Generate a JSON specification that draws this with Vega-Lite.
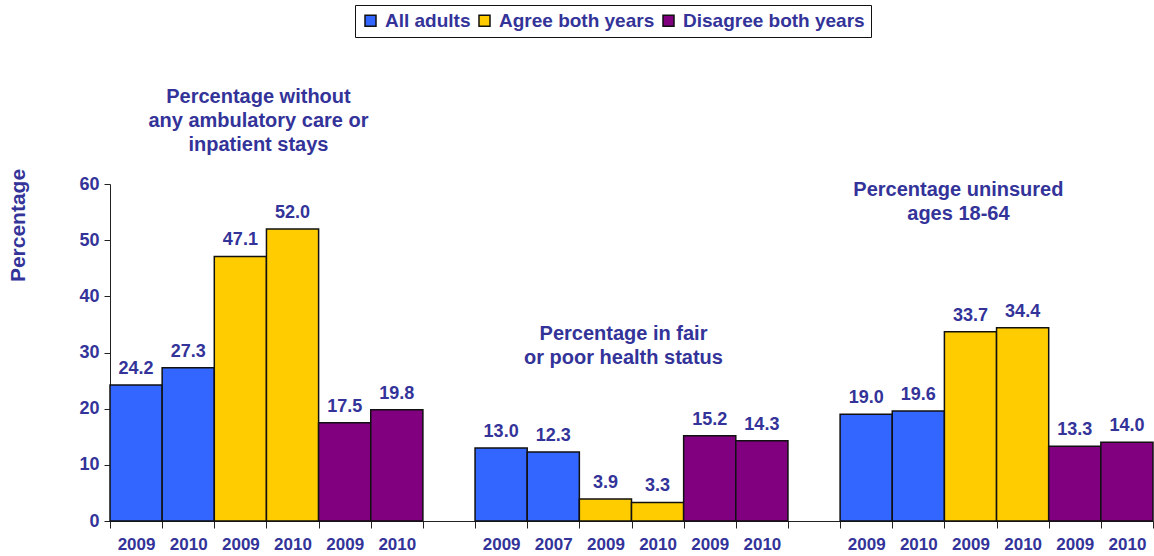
{
  "$schema": "https://vega.github.io/schema/vega-lite/v6.json",
  "width": 1043,
  "height": 337,
  "autosize": {"type": "none"},
  "padding": {"left": 110, "top": 184, "right": 1, "bottom": 35},
  "background": "white",
  "config": {
    "view": {"stroke": null},
    "font": "Liberation Sans",
    "text": {"font": "Liberation Sans", "fontWeight": "bold", "color": "#333399"}
  },
  "datasets": {
    "bars": [
      {"bar": "A all 2009", "series": "All adults", "year": "2009", "value": 24.2},
      {"bar": "A all 2010", "series": "All adults", "year": "2010", "value": 27.3},
      {"bar": "A agree 2009", "series": "Agree both years", "year": "2009", "value": 47.1},
      {"bar": "A agree 2010", "series": "Agree both years", "year": "2010", "value": 52.0},
      {"bar": "A disagree 2009", "series": "Disagree both years", "year": "2009", "value": 17.5},
      {"bar": "A disagree 2010", "series": "Disagree both years", "year": "2010", "value": 19.8},
      {"bar": "B all 2009", "series": "All adults", "year": "2009", "value": 13.0},
      {"bar": "B all 2007", "series": "All adults", "year": "2007", "value": 12.3},
      {"bar": "B agree 2009", "series": "Agree both years", "year": "2009", "value": 3.9},
      {"bar": "B agree 2010", "series": "Agree both years", "year": "2010", "value": 3.3},
      {"bar": "B disagree 2009", "series": "Disagree both years", "year": "2009", "value": 15.2},
      {"bar": "B disagree 2010", "series": "Disagree both years", "year": "2010", "value": 14.3},
      {"bar": "C all 2009", "series": "All adults", "year": "2009", "value": 19.0},
      {"bar": "C all 2010", "series": "All adults", "year": "2010", "value": 19.6},
      {"bar": "C agree 2009", "series": "Agree both years", "year": "2009", "value": 33.7},
      {"bar": "C agree 2010", "series": "Agree both years", "year": "2010", "value": 34.4},
      {"bar": "C disagree 2009", "series": "Disagree both years", "year": "2009", "value": 13.3},
      {"bar": "C disagree 2010", "series": "Disagree both years", "year": "2010", "value": 14.0}
    ],
    "titlesAB": [
      {"at": "A agree 2010", "level": 77.3, "label": "Percentage without\nany ambulatory care or\ninpatient stays"},
      {"at": "B agree 2010", "level": 35.0, "label": "Percentage in fair\nor poor health status"}
    ],
    "titlesC": [
      {"at": "C agree 2009", "level": 60.7, "label": "Percentage uninsured\nages 18-64"}
    ]
  },
  "encoding": {
    "x": {
      "field": "bar",
      "type": "nominal",
      "scale": {
        "type": "band",
        "paddingInner": 0,
        "paddingOuter": 0,
        "domain": ["A all 2009", "A all 2010", "A agree 2009", "A agree 2010", "A disagree 2009", "A disagree 2010", "gap1",
                   "B all 2009", "B all 2007", "B agree 2009", "B agree 2010", "B disagree 2009", "B disagree 2010", "gap2",
                   "C all 2009", "C all 2010", "C agree 2009", "C agree 2010", "C disagree 2009", "C disagree 2010"]
      },
      "axis": {
        "title": null,
        "labelAngle": 0,
        "labelExpr": "substring(datum.label + '', 0, 3) == 'gap' ? '' : slice(datum.label + '', -4)",
        "tickBand": "extent",
        "tickSize": 7,
        "tickColor": "#222222",
        "domainColor": "#222222",
        "labelPadding": 8,
        "labelFont": "Liberation Sans",
        "labelFontWeight": "bold",
        "labelFontSize": 17,
        "labelColor": "#333399"
      }
    },
    "y": {
      "field": "value",
      "type": "quantitative",
      "scale": {"domain": [0, 60], "nice": false},
      "axis": {
        "values": [0, 10, 20, 30, 40, 50, 60],
        "grid": false,
        "title": "Percentage",
        "titleFont": "Liberation Sans",
        "titleFontWeight": "bold",
        "titleFontSize": 21,
        "titleColor": "#333399",
        "titleAngle": -90,
        "titleAlign": "center",
        "titleBaseline": "middle",
        "titleX": -92,
        "titleY": 41,
        "tickSize": 6,
        "tickColor": "#222222",
        "domainColor": "#222222",
        "labelPadding": 5,
        "labelFont": "Liberation Sans",
        "labelFontWeight": "bold",
        "labelFontSize": 18,
        "labelColor": "#333399"
      }
    }
  },
  "layer": [
    {
      "data": {"name": "bars"},
      "mark": {"type": "bar", "stroke": "#111111", "strokeWidth": 1.5},
      "encoding": {
        "color": {
          "field": "series",
          "type": "nominal",
          "scale": {
            "domain": ["All adults", "Agree both years", "Disagree both years"],
            "range": ["#3366FF", "#FFCC00", "#800080"]
          },
          "legend": {
            "title": null,
            "orient": "none",
            "direction": "horizontal",
            "legendX": 245,
            "legendY": -179,
            "strokeColor": "#111111",
            "padding": 6,
            "symbolType": "square",
            "symbolSize": 121,
            "symbolStrokeColor": "#111111",
            "symbolStrokeWidth": 1.5,
            "symbolOpacity": 1,
            "labelFont": "Liberation Sans",
            "labelFontWeight": "bold",
            "labelFontSize": 19,
            "labelLimit": 400,
            "labelColor": "#333399",
            "labelOffset": 5,
            "columnPadding": 4
          }
        }
      }
    },
    {
      "data": {"name": "bars"},
      "mark": {"type": "text", "baseline": "alphabetic", "dy": -11, "fontSize": 18},
      "encoding": {
        "text": {"field": "value", "type": "quantitative", "format": ".1f"}
      }
    },
    {
      "data": {"name": "titlesAB"},
      "mark": {"type": "text", "baseline": "top", "align": "center", "fontSize": 20, "lineBreak": "\n", "lineHeight": 24, "dx": -8},
      "encoding": {
        "x": {"field": "at", "type": "nominal", "bandPosition": 0},
        "y": {"field": "level", "type": "quantitative"},
        "text": {"field": "label"}
      }
    },
    {
      "data": {"name": "titlesC"},
      "mark": {"type": "text", "baseline": "top", "align": "center", "fontSize": 20, "lineBreak": "\n", "lineHeight": 24, "dx": 14},
      "encoding": {
        "x": {"field": "at", "type": "nominal", "bandPosition": 0},
        "y": {"field": "level", "type": "quantitative"},
        "text": {"field": "label"}
      }
    }
  ]
}
